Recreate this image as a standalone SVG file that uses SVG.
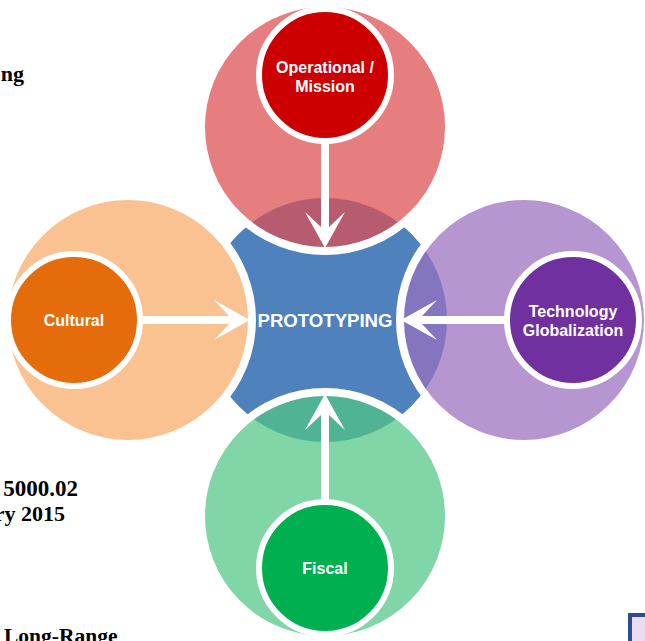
<svg xmlns="http://www.w3.org/2000/svg" width="645" height="641" viewBox="0 0 645 641">
  <style>
    .bg { font-family: "Liberation Serif", "Times New Roman", serif; font-weight: bold; font-size: 22px; fill: #000000; }
    .lbl { font-family: "Liberation Sans", Arial, sans-serif; font-weight: bold; font-size: 16px; fill: #ffffff; text-anchor: middle; }
    .main { font-family: "Liberation Sans", Arial, sans-serif; font-weight: bold; font-size: 18.6px; fill: #ffffff; text-anchor: middle; }
    .petal { stroke: #ffffff; stroke-width: 8; }
    .small { stroke: #ffffff; stroke-width: 6; }
    .arrow { fill: #ffffff; }
  </style>
  <rect x="0" y="0" width="645" height="641" fill="#ffffff"/>

  <!-- background page fragments -->
  <g id="page-fragments">
    <text class="bg" x="24" y="81" text-anchor="end">ng</text>
    <text class="bg" x="78" y="496" text-anchor="end" style="font-size:23px">5000.02</text>
    <text class="bg" x="65" y="521" text-anchor="end">ry 2015</text>
    <text class="bg" x="4" y="643" style="font-size:21.5px">Long-Range</text>
    <rect x="630" y="615" width="30" height="40" fill="#EBDCF2" stroke="#2C4D8E" stroke-width="4"/>
  </g>

  <g id="prototyping-base">
    <circle cx="325" cy="320" r="122" fill="#4F81BD"/>
  </g>

  <g id="petals">
    <circle id="petal-operational" class="petal" cx="325" cy="127" r="124" fill="#DD4E51" fill-opacity="0.73"/>
    <circle id="petal-cultural" class="petal" cx="128" cy="320" r="124" fill="#FAC191"/>
    <circle id="petal-technology" class="petal" cx="524" cy="320" r="124" fill="#9A6FC0" fill-opacity="0.73"/>
    <circle id="petal-fiscal" class="petal" cx="325" cy="516" r="124" fill="#51C785" fill-opacity="0.73"/>
  </g>

  <g id="connectors">
    <polygon class="arrow" points="321,140 321,227 305,212 325,248 345,212 329,227 329,140"/>
    <polygon class="arrow" points="140,316 229,316 214,300 250,320 214,340 229,324 140,324"/>
    <polygon class="arrow" points="508,316 422,316 437,300 401,320 437,340 422,324 508,324"/>
    <polygon class="arrow" points="321,502 321,415 305,430 325,394 345,430 329,415 329,502"/>
  </g>

  <g id="operational">
    <circle class="small" cx="325" cy="75" r="66" fill="#CC0000"/>
    <text class="lbl" x="325" y="73">Operational /</text>
    <text class="lbl" x="325" y="92">Mission</text>
  </g>
  <g id="cultural">
    <circle class="small" cx="74" cy="320" r="66" fill="#E46C0A"/>
    <text class="lbl" x="74" y="326">Cultural</text>
  </g>
  <g id="technology">
    <circle class="small" cx="573" cy="320" r="66" fill="#7030A0"/>
    <text class="lbl" x="573" y="317">Technology</text>
    <text class="lbl" x="573" y="336">Globalization</text>
  </g>
  <g id="fiscal">
    <circle class="small" cx="325" cy="568" r="66" fill="#00B050"/>
    <text class="lbl" x="325" y="574">Fiscal</text>
  </g>

  <g id="prototyping">
    <text class="main" x="325" y="327">PROTOTYPING</text>
  </g>
</svg>
